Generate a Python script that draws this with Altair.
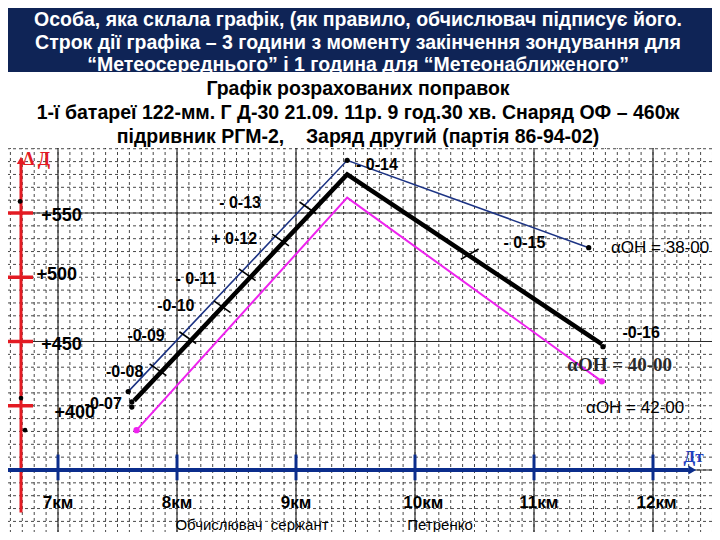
import altair as alt
import pandas as pd

# ---------------- data ----------------
header_lines = [
    "Особа, яка склала графік, (як правило, обчислювач підписує його.",
    "Строк дії графіка – 3 години з моменту закінчення зондування для",
    "“Метеосереднього” і 1 година для “Метеонаближеного”",
]
title_lines = [
    "Графік розрахованих поправок",
    "1-ї батареї 122-мм. Г Д-30 21.09. 11р. 9 год.30 хв. Снаряд ОФ – 460ж",
    "підривник РГМ-2,\u00a0\u00a0\u00a0\u00a0Заряд другий (партія 86-94-02)",
]
signature = ["Обчислювач\u00a0\u00a0сержант", "Петренко"]
signature_km = [8.63, 10.21]
signature_dd = [307, 307]

km_major = [7, 8, 9, 10, 11, 12]
km_label_text = ["7км", "8км", "9км", "10км", "11км", "12км"]
km_label_x = [7.0, 8.0, 9.0, 10.07, 11.04, 12.03]
km_label_dd = [324, 324, 324, 324, 324, 324]

dd_major = [350, 450, 550]
dd_ticks = [550, 500, 450, 400]
dd_label_text = ["+550", "+500", "+450", "+400"]
dd_label_km = [7.03, 6.99, 7.03, 7.14]
dd_label_dd = [548, 502, 447, 394]

# grid of the squared paper (100 m in range, 10 m in ΔД)
grid_km = [round(6.6 + 0.1 * i, 1) for i in range(60)]
grid_dd = list(range(310, 710, 10))

# the three correction curves
blue_km = [7.59, 9.43, 11.46]
blue_dd = [411, 591, 523]
black_km = [7.64, 9.43, 11.57]
black_dd = [404, 580, 448]
magenta_km = [7.66, 9.43, 11.57]
magenta_dd = [381, 562, 419]

# cross marks on the curves
cross_km = [7.84, 8.09, 8.38, 8.59, 8.87, 9.10, 10.46]
cross_dd = [428, 453, 477, 502, 529, 554, 518]
cross_angle = [35, 35, 35, 35, 35, 35, 330]

# deflection labels
corr_text = ["-0-07", "-0-08", "-0-09", "-0-10", "- 0-11", "+ 0-12", "- 0-13",
             "- 0-14", "- 0-15", "-0-16"]
corr_km = [7.38, 7.56, 7.74, 7.99, 8.16, 8.48, 8.53, 9.68, 10.92, 11.90]
corr_dd = [401, 426, 454, 478, 499, 530, 558, 587, 527, 457]

alpha_text = ["αОН = 38-00", "αОН = 42-00"]
alpha_km = [12.06, 11.85]
alpha_dd = [523, 398]
alpha_serif_text = ["αОН = 40-00"]
alpha_serif_km = [11.72]
alpha_serif_dd = [432]

# small dots
dot_km = [7.59, 9.43, 11.46, 7.62, 7.62, 11.58]
dot_dd = [411, 591, 523, 403, 399, 446]
mdot_km = [7.66, 11.57]
mdot_dd = [381, 419]
axisdot_km = [6.681, 6.689, 6.723]
axisdot_dd = [559, 406, 381]

# red ΔД axis and blue Дт axis
red_axis_km = [6.689]
red_axis_bottom = [317]
red_axis_top = [591]
red_tick_from = [6.58]
red_tick_to = [6.79]
blue_axis_dd = [350]
blue_axis_from = [6.58]
blue_axis_to = [12.30]
blue_tick_low = [342]
blue_tick_high = [362]

# ---------------- chart ----------------
W, H = 704, 524
FONT = "Liberation Sans"
xs = alt.Scale(domain=[6.5798, 12.4958], nice=False, zero=False)
ys = alt.Scale(domain=[301.75, 709.53], nice=False, zero=False)


def X(field="km"):
    return alt.X(f"{field}:Q", scale=xs, axis=None)


def Y(field="dd"):
    return alt.Y(f"{field}:Q", scale=ys, axis=None)


one = pd.DataFrame({"a": [0]})

vmin = alt.Chart(pd.DataFrame({"km": grid_km})).mark_rule(
    color="#1a1a1a", strokeWidth=1, strokeDash=[3, 3], opacity=0.8).encode(x=X())
hmin = alt.Chart(pd.DataFrame({"dd": grid_dd})).mark_rule(
    color="#1a1a1a", strokeWidth=1, strokeDash=[3, 3], opacity=0.8).encode(y=Y())
vmaj = alt.Chart(pd.DataFrame({"km": km_major})).mark_rule(
    color="#2a2a2a", strokeWidth=1.2).encode(x=X())
hmaj = alt.Chart(pd.DataFrame({"dd": dd_major})).mark_rule(
    color="#2a2a2a", strokeWidth=1.2).encode(y=Y())

# header band and title
header_band = alt.Chart(one).mark_rect(color="#0f2456").encode(
    x=alt.value(0), x2=alt.value(W), y=alt.value(0), y2=alt.value(64))
header_layers = []
for t, yy in zip(header_lines, [17.5, 41, 63]):
    header_layers.append(
        alt.Chart(pd.DataFrame({"t": [t]})).mark_text(
            color="white", font=FONT, fontSize=19.5, fontWeight="bold",
            align="center", baseline="alphabetic").encode(
            text="t:N", x=alt.value(W / 2 - 2), y=alt.value(yy)))
white_band = alt.Chart(one).mark_rect(color="white").encode(
    x=alt.value(0), x2=alt.value(W), y=alt.value(64), y2=alt.value(140))
title_layers = []
for t, yy in zip(title_lines, [86.5, 110.5, 134.5]):
    title_layers.append(
        alt.Chart(pd.DataFrame({"t": [t]})).mark_text(
            color="black", font=FONT, fontSize=19.5, fontWeight="bold",
            align="center", baseline="alphabetic").encode(
            text="t:N", x=alt.value(W / 2 - 2), y=alt.value(yy)))

# red ΔД axis
red_axis = alt.Chart(pd.DataFrame({"km": red_axis_km, "lo": red_axis_bottom, "hi": red_axis_top})).mark_rule(
    color="#e31b23", strokeWidth=3).encode(x=X(), y=Y("lo"), y2="hi:Q")
red_arrow = alt.Chart(pd.DataFrame({"km": red_axis_km, "dd": red_axis_top})).mark_point(
    shape="triangle-up", filled=True, color="#e31b23", size=70, opacity=1).encode(x=X(), y=Y())
red_ticks = alt.Chart(pd.DataFrame({"a": red_tick_from * 4, "b": red_tick_to * 4, "dd": dd_ticks})).mark_rule(
    color="#e31b23", strokeWidth=3.5).encode(x=X("a"), x2="b:Q", y=Y())

# blue Дт axis
blue_axis = alt.Chart(pd.DataFrame({"a": blue_axis_from, "b": blue_axis_to, "dd": blue_axis_dd})).mark_rule(
    color="#0b2d8c", strokeWidth=4).encode(x=X("a"), x2="b:Q", y=Y())
blue_arrow = alt.Chart(pd.DataFrame({"km": [12.33], "dd": blue_axis_dd})).mark_point(
    shape="triangle-right", filled=True, color="#0b2d8c", size=80, opacity=1).encode(x=X(), y=Y())
blue_ticks = alt.Chart(pd.DataFrame({"km": km_major, "lo": blue_tick_low * 6, "hi": blue_tick_high * 6})).mark_rule(
    color="#0b2d8c", strokeWidth=3).encode(x=X(), y=Y("lo"), y2="hi:Q")

# curves
blue_line = alt.Chart(pd.DataFrame({"km": blue_km, "dd": blue_dd, "o": [0, 1, 2]})).mark_line(
    color="#1c3384", strokeWidth=1.6).encode(x=X(), y=Y(), order="o:Q")
black_line = alt.Chart(pd.DataFrame({"km": black_km, "dd": black_dd, "o": [0, 1, 2]})).mark_line(
    color="black", strokeWidth=4.5).encode(x=X(), y=Y(), order="o:Q")
magenta_line = alt.Chart(pd.DataFrame({"km": magenta_km, "dd": magenta_dd, "o": [0, 1, 2]})).mark_line(
    color="#ee22ee", strokeWidth=2).encode(x=X(), y=Y(), order="o:Q")

crosses = alt.Chart(pd.DataFrame({"km": cross_km, "dd": cross_dd, "ang": cross_angle})).mark_point(
    shape="stroke", color="black", strokeWidth=1.6, size=420, opacity=1).encode(
    x=X(), y=Y(), angle=alt.Angle("ang:Q", scale=None))

dots = alt.Chart(pd.DataFrame({"km": dot_km, "dd": dot_dd})).mark_circle(
    color="black", size=28, opacity=1).encode(x=X(), y=Y())
mdots = alt.Chart(pd.DataFrame({"km": mdot_km, "dd": mdot_dd})).mark_circle(
    color="#ee22ee", size=40, opacity=1).encode(x=X(), y=Y())
axisdots = alt.Chart(pd.DataFrame({"km": axisdot_km, "dd": axisdot_dd})).mark_circle(
    color="black", size=22, opacity=1).encode(x=X(), y=Y())

# texts
corr_labels = alt.Chart(pd.DataFrame({"km": corr_km, "dd": corr_dd, "t": corr_text})).mark_text(
    font=FONT, fontSize=16, fontWeight="bold", color="black", align="center", baseline="middle").encode(
    x=X(), y=Y(), text="t:N")
alpha_labels = alt.Chart(pd.DataFrame({"km": alpha_km, "dd": alpha_dd, "t": alpha_text})).mark_text(
    font=FONT, fontSize=17, color="black", align="center", baseline="middle").encode(
    x=X(), y=Y(), text="t:N")
alpha_serif = alt.Chart(pd.DataFrame({"km": alpha_serif_km, "dd": alpha_serif_dd, "t": alpha_serif_text})).mark_text(
    font="Liberation Serif", fontSize=19, fontWeight="bold", color="#2a2a2a", align="center",
    baseline="middle").encode(x=X(), y=Y(), text="t:N")
dd_labels = alt.Chart(pd.DataFrame({"km": dd_label_km, "dd": dd_label_dd, "t": dd_label_text})).mark_text(
    font=FONT, fontSize=18, fontWeight="bold", color="black", align="center", baseline="middle").encode(
    x=X(), y=Y(), text="t:N")
km_labels = alt.Chart(pd.DataFrame({"km": km_label_x, "dd": km_label_dd, "t": km_label_text})).mark_text(
    font=FONT, fontSize=17, fontWeight="bold", color="black", align="center", baseline="middle").encode(
    x=X(), y=Y(), text="t:N")
sig_labels = alt.Chart(pd.DataFrame({"km": signature_km, "dd": signature_dd, "t": signature})).mark_text(
    font=FONT, fontSize=15, color="black", align="center", baseline="middle").encode(
    x=X(), y=Y(), text="t:N")
dd_title = alt.Chart(pd.DataFrame({"km": [6.82], "dd": [591], "t": ["Δ Д"]})).mark_text(
    font="Liberation Serif", fontSize=18, fontWeight="bold", color="#e31b23", align="center",
    baseline="middle").encode(x=X(), y=Y(), text="t:N")
dt_title = alt.Chart(pd.DataFrame({"km": [12.34], "dd": [360], "t": ["Дт"]})).mark_text(
    font="Liberation Serif", fontSize=17, fontWeight="bold", color="#1f3fbf", align="center",
    baseline="middle").encode(x=X(), y=Y(), text="t:N")

layers = [vmin, hmin, vmaj, hmaj, header_band] + header_layers + [white_band] + title_layers + [
    red_axis, red_ticks, red_arrow, blue_axis, blue_ticks, blue_arrow,
    blue_line, magenta_line, black_line, crosses, dots, mdots, axisdots,
    corr_labels, alpha_labels, alpha_serif, dd_labels, km_labels, sig_labels,
    dd_title, dt_title,
]

chart = alt.layer(*layers).properties(
    width=W, height=H, padding=0, background="white",
    autosize=alt.AutoSizeParams(type="none"),
).configure_view(stroke=None)

chart.save("out.html", embed_options={"renderer": "svg", "actions": False})
